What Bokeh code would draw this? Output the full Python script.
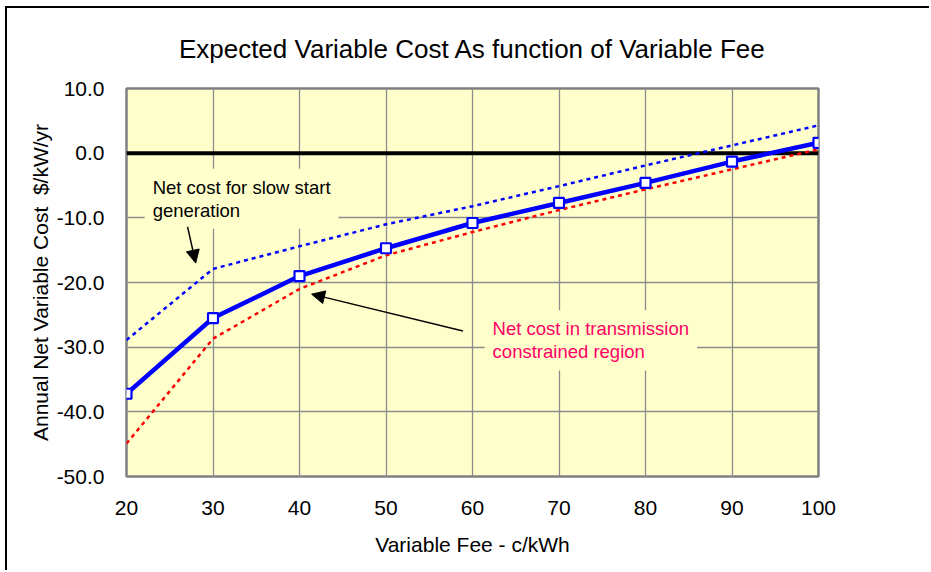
import math
from bokeh.plotting import figure
from bokeh.models import (Label, Arrow, NormalHead, Span, PrintfTickFormatter,
                          FixedTicker, Range1d, Title)
from bokeh.embed import file_html
from bokeh.resources import INLINE

# ---- data ----
fee = [20, 30, 40, 50, 60, 70, 80, 90, 100]
expected_cost = [-37.2, -25.5, -19.0, -14.7, -10.8, -7.7, -4.6, -1.3, 1.6]
slow_start = [-28.9, -17.9, -14.4, -11.0, -8.2, -5.1, -1.9, 1.2, 4.3]
transmission = [-44.9, -28.7, -21.0, -15.8, -12.2, -8.8, -5.6, -2.5, 0.6]
x_ticks = [20, 30, 40, 50, 60, 70, 80, 90, 100]
y_ticks = [-50, -40, -30, -20, -10, 0, 10]

FONT = "Liberation Sans"

p = figure(width=924, height=564, output_backend="svg", toolbar_location=None,
           x_range=Range1d(20, 100), y_range=Range1d(-50, 10),
           min_border_left=119, min_border_right=113,
           min_border_top=80, min_border_bottom=96)
p.margin = (6, 0, 0, 5)
p.styles = {"border-left": "2px solid black", "border-top": "2px solid black"}

p.title = Title(text="Expected Variable Cost As function of Variable Fee",
                align="center", vertical_align="top", text_font=FONT,
                text_font_size="26px", text_font_style="normal",
                text_color="black", standoff=45)

p.background_fill_color = "#FFFFCC"
p.border_fill_color = "white"
p.outline_line_color = "#808080"
p.outline_line_width = 2.5

# axes
for ax in (p.xaxis[0], p.yaxis[0]):
    ax.axis_line_color = None
    ax.major_tick_line_color = None
    ax.minor_tick_line_color = None
    ax.major_label_text_font = FONT
    ax.major_label_text_font_size = "21px"
    ax.major_label_text_color = "black"
    ax.axis_label_text_font = FONT
    ax.axis_label_text_font_size = "21px"
    ax.axis_label_text_font_style = "normal"
    ax.axis_label_text_color = "black"
p.xaxis.ticker = FixedTicker(ticks=x_ticks)
p.yaxis.ticker = FixedTicker(ticks=y_ticks)
p.yaxis.formatter = PrintfTickFormatter(format="%.1f")
p.xaxis.major_label_standoff = 18
p.yaxis.major_label_standoff = 16
p.xaxis.axis_label = "Variable Fee - c/kWh"
p.xaxis.axis_label_standoff = 15
p.yaxis.axis_label = "Annual Net Variable Cost\u00a0\u00a0$/kW/yr"
p.yaxis.axis_label_standoff = 2

p.grid.grid_line_color = "#8C8C8C"
p.grid.grid_line_width = 1.3
p.xgrid.ticker = FixedTicker(ticks=x_ticks)
p.ygrid.ticker = FixedTicker(ticks=y_ticks)

# zero line
p.add_layout(Span(location=0, dimension="width", line_color="black",
                  line_width=4, level="underlay"))

# series
p.line(fee, slow_start, line_color="#0000FF", line_width=2.5, line_dash="4 4")
p.line(fee, transmission, line_color="#FF0000", line_width=2.5, line_dash="4 4")
p.line(fee, expected_cost, line_color="#0000FF", line_width=4.5)
p.scatter(fee, expected_cost, marker="square", size=10, fill_color="white",
          line_color="#0000FF", line_width=2.2)

# annotations
p.add_layout(Label(x=22.1, y=-2.4, text="Net cost for slow start\ngeneration",
                   text_align="left", text_baseline="top", text_font=FONT,
                   text_font_size="18.5px", text_color="black", text_line_height=1.1,
                   background_fill_color="#FFFFCC", padding=8))
p.add_layout(Label(x=61.4, y=-24.3, text="Net cost in transmission\nconstrained region",
                   text_align="left", text_baseline="top", text_font=FONT,
                   text_font_size="18.5px", text_color="#FF0066", text_line_height=1.1,
                   background_fill_color="#FFFFCC", padding=8))

p.add_layout(Arrow(x_start=27.06, y_start=-11.4, x_end=28.0, y_end=-17.0,
                   line_color="black", line_width=1.5,
                   end=NormalHead(size=13, fill_color="black", line_color="black")))
p.add_layout(Arrow(x_start=58.9, y_start=-27.5, x_end=41.4, y_end=-21.8,
                   line_color="black", line_width=1.5,
                   end=NormalHead(size=13, fill_color="black", line_color="black")))

open("out.html", "w").write(file_html(p, INLINE))
